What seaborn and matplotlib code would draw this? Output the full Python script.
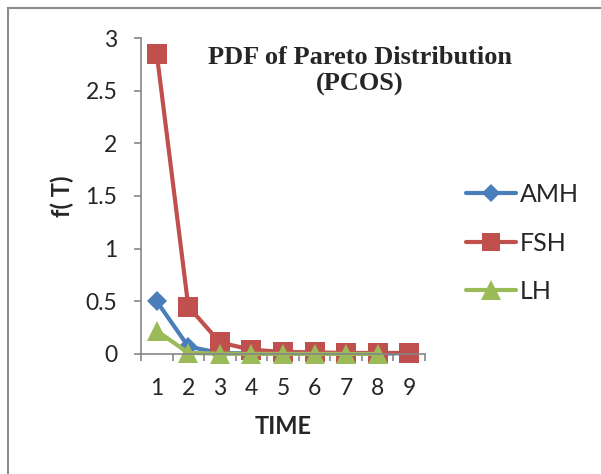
import numpy as np
import pandas as pd
import seaborn as sns
import matplotlib.pyplot as plt
from matplotlib.patches import Rectangle
from matplotlib.lines import Line2D

# ------------------------------------------------------------
# Data
# ------------------------------------------------------------
TIME = [1, 2, 3, 4, 5, 6, 7, 8, 9]
AMH = [0.50, 0.07, 0.01, 0.005, 0.003, 0.002, 0.001, 0.001, 0.01]
FSH = [2.85, 0.45, 0.11, 0.04, 0.02, 0.015, 0.01, 0.01, 0.01]
LH = [0.22, 0.01, 0.003, 0.001, 0.001, 0.0005, 0.0005, 0.0003]

SERIES = ["AMH", "FSH", "LH"]
COLORS = {"AMH": "#4A7EBB", "FSH": "#C0504D", "LH": "#9BBB59"}
MARKERS = {"AMH": "D", "FSH": "s", "LH": "^"}
MSIZE = {"AMH": 10, "FSH": 14, "LH": 15}

rows = []
for name, vals in zip(SERIES, [AMH, FSH, LH]):
    for t, v in zip(TIME, vals):
        rows.append([t, name, v])
df = pd.DataFrame(rows, columns=["time", "series", "value"])

# ------------------------------------------------------------
# Visualization
# ------------------------------------------------------------
sns.set_theme(style="white")
plt.rcParams["font.family"] = ["Lato", "DejaVu Sans"]

fig = plt.figure(figsize=(6.01, 4.74), dpi=100)
ax = fig.add_axes([0.2346, 0.2532, 0.4725, 0.6666])

for name in SERIES:
    sub = df[df["series"] == name]
    sns.lineplot(
        data=sub, x="time", y="value", ax=ax,
        color=COLORS[name], marker=MARKERS[name],
        markersize=MSIZE[name], markeredgewidth=0,
        linewidth=3, legend=False, clip_on=False,
    )

ax.set_xlim(0.5, 9.5)
ax.set_ylim(0, 3)
ax.set_xticks(TIME)
ax.set_xticklabels([str(t) for t in TIME])
ax.set_xticks(np.arange(0.5, 10, 1), minor=True)
ax.set_yticks([0, 0.5, 1, 1.5, 2, 2.5, 3])
ax.set_yticklabels(["0", "0.5", "1", "1.5", "2", "2.5", "3"])
ax.tick_params(axis="x", which="major", length=0, pad=17, labelsize=16.5)
ax.tick_params(axis="x", which="minor", length=5, width=1.2,
               color="#868686", direction="out", bottom=True)
ax.tick_params(axis="y", which="major", length=5, width=1.2,
               color="#868686", direction="out", left=True,
               pad=12, labelsize=16.5)

for side in ["top", "right"]:
    ax.spines[side].set_visible(False)
for side in ["left", "bottom"]:
    ax.spines[side].set_color("#868686")
    ax.spines[side].set_linewidth(1.2)

ax.set_xlabel("TIME", fontsize=17, fontweight="bold", labelpad=12)
ax.set_ylabel("f( T)", fontsize=17, fontweight="bold", labelpad=8)

fig.text(0.599, 0.904, "PDF of Pareto Distribution\n(PCOS)",
         ha="center", va="top", fontsize=19, fontweight="bold",
         family="Liberation Serif", linespacing=1.2)

handles = [
    Line2D([], [], color=COLORS[n], marker=MARKERS[n],
           markersize=MSIZE[n] - 1, markeredgewidth=0, linewidth=3)
    for n in SERIES
]
fig.legend(handles, SERIES, loc="center left",
           bbox_to_anchor=(0.738, 0.487), frameon=False,
           fontsize=18, handlelength=2.0, handletextpad=0.15,
           labelspacing=1.02)

# outer chart border (only top/left visible in the crop)
fig.patches.append(Rectangle((8 / 601, -0.1), 1.2, 1 - 8 / 474 + 0.1,
                             transform=fig.transFigure, fill=False,
                             edgecolor="#8C8C8C", linewidth=1.5))

fig.savefig("out.png", dpi=100)
